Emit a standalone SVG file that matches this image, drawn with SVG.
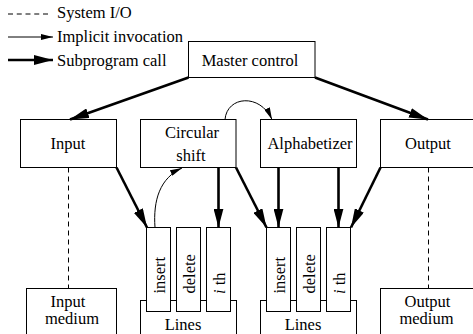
<svg xmlns="http://www.w3.org/2000/svg" width="473" height="334" viewBox="0 0 473 334">
<style>
.box{fill:#fff;stroke:#000;stroke-width:1}
.thick{fill:none;stroke:#000;stroke-width:2.6}
.thin{fill:none;stroke:#000;stroke-width:1}
.dash{fill:none;stroke:#000;stroke-width:1;stroke-dasharray:5 4}
</style>
<defs>
<marker id="big" markerUnits="userSpaceOnUse" markerWidth="20" markerHeight="10" refX="19" refY="5" orient="auto" viewBox="0 0 20 10">
<path d="M0,0 L19,5 L0,10 Z" fill="#000"/>
</marker>
<marker id="small" markerUnits="userSpaceOnUse" markerWidth="13" markerHeight="6" refX="12" refY="3" orient="auto" viewBox="0 0 13 6">
<path d="M0,0 L12,3 L0,6 Z" fill="#000"/>
</marker>
</defs>
<g id="legend">
<line x1="8" y1="14" x2="48" y2="14" class="thin" stroke-dasharray="5 3.75"/>
<text x="57" y="18" font-family="Liberation Serif, serif" font-size="16.5">System I/O</text>
<line x1="8" y1="37" x2="53" y2="37" class="thin" marker-end="url(#small)"/>
<text x="57" y="42" font-family="Liberation Serif, serif" font-size="16.5">Implicit invocation</text>
<line x1="8" y1="60" x2="53" y2="60" class="thick" marker-end="url(#big)"/>
<text x="57" y="66" font-family="Liberation Serif, serif" font-size="16.5">Subprogram call</text>
</g>
<g id="master"><rect class="box" x="188.5" y="41.5" width="126.5" height="36"/><text text-anchor="middle" x="250" y="66" font-family="Liberation Serif, serif" font-size="16.5">Master control</text></g>
<g id="input"><rect class="box" x="20.5" y="119.5" width="96" height="48"/><text text-anchor="middle" x="68" y="149" font-family="Liberation Serif, serif" font-size="16.5">Input</text></g>
<g id="circular"><rect class="box" x="140.5" y="119.5" width="95.5" height="48"/><text text-anchor="middle" x="192" y="137.5" font-family="Liberation Serif, serif" font-size="16.5">Circular</text><text text-anchor="middle" x="191" y="160.7" font-family="Liberation Serif, serif" font-size="16.5">shift</text></g>
<g id="alpha"><rect class="box" x="260.5" y="119.5" width="96" height="48"/><text text-anchor="middle" x="310" y="149" font-family="Liberation Serif, serif" font-size="16.5">Alphabetizer</text></g>
<g id="output"><rect class="box" x="380.5" y="119.5" width="100" height="48"/><text text-anchor="middle" x="428" y="149" font-family="Liberation Serif, serif" font-size="16.5">Output</text></g>
<g id="inmedium"><rect class="box" x="26.5" y="288.5" width="90" height="60"/><text text-anchor="middle" x="68" y="306.5" font-family="Liberation Serif, serif" font-size="16.5">Input</text><text text-anchor="middle" x="72" y="324" font-family="Liberation Serif, serif" font-size="16.5">medium</text></g>
<g id="outmedium"><rect class="box" x="380.5" y="288.5" width="100" height="60"/><text text-anchor="middle" x="427.5" y="306.5" font-family="Liberation Serif, serif" font-size="16.5">Output</text><text text-anchor="middle" x="426.5" y="324" font-family="Liberation Serif, serif" font-size="16.5">medium</text></g>
<g id="lines1">
<rect class="box" x="140.5" y="300.5" width="96" height="50"/>
<text text-anchor="middle" x="183" y="330" font-family="Liberation Serif, serif" font-size="16.5">Lines</text>
<rect class="box" x="146.5" y="227.5" width="24" height="84"/>
<rect class="box" x="176.5" y="227.5" width="24" height="84"/>
<rect class="box" x="206.5" y="227.5" width="24" height="84"/>
<text transform="translate(165,293.5) rotate(-90)" font-family="Liberation Serif, serif" font-size="16.5">insert</text>
<text transform="translate(195,293.5) rotate(-90)" font-family="Liberation Serif, serif" font-size="16.5">delete</text>
<text transform="translate(225,294) rotate(-90)" font-family="Liberation Serif, serif" font-size="16.5"><tspan font-style="italic">i</tspan> th</text>
</g>
<g id="lines2">
<rect class="box" x="260.5" y="300.5" width="96" height="50"/>
<text text-anchor="middle" x="303" y="330" font-family="Liberation Serif, serif" font-size="16.5">Lines</text>
<rect class="box" x="266.5" y="227.5" width="24" height="84"/>
<rect class="box" x="296.5" y="227.5" width="24" height="84"/>
<rect class="box" x="326.5" y="227.5" width="24" height="84"/>
<text transform="translate(285,293.5) rotate(-90)" font-family="Liberation Serif, serif" font-size="16.5">insert</text>
<text transform="translate(315,293.5) rotate(-90)" font-family="Liberation Serif, serif" font-size="16.5">delete</text>
<text transform="translate(345,294) rotate(-90)" font-family="Liberation Serif, serif" font-size="16.5"><tspan font-style="italic">i</tspan> th</text>
</g>
<g id="connectors">
<line class="thick" x1="188.5" y1="77.5" x2="70" y2="119.5" marker-end="url(#big)"/>
<line class="thick" x1="315" y1="77.5" x2="428" y2="119.5" marker-end="url(#big)"/>
<line class="thick" x1="116.5" y1="167.5" x2="147" y2="227.5" marker-end="url(#big)"/>
<line class="thick" x1="218.5" y1="167.5" x2="218.5" y2="227.5" marker-end="url(#big)"/>
<line class="thick" x1="236" y1="167.5" x2="266.5" y2="227.5" marker-end="url(#big)"/>
<line class="thick" x1="278.5" y1="167.5" x2="278.5" y2="227.5" marker-end="url(#big)"/>
<line class="thick" x1="338.5" y1="167.5" x2="338.5" y2="227.5" marker-end="url(#big)"/>
<line class="thick" x1="380.5" y1="167.5" x2="351" y2="227.5" marker-end="url(#big)"/>
<line class="dash" x1="68.5" y1="167.5" x2="68.5" y2="288.5"/>
<line class="dash" x1="428.5" y1="167.5" x2="428.5" y2="288.5"/>
<path class="thin" d="M155,227.5 C153,200 160,178 182,168" marker-end="url(#small)"/>
<path class="thin" d="M225,119.5 C227,96 260,93 272,119.5" marker-end="url(#small)"/>
</g>
</svg>
